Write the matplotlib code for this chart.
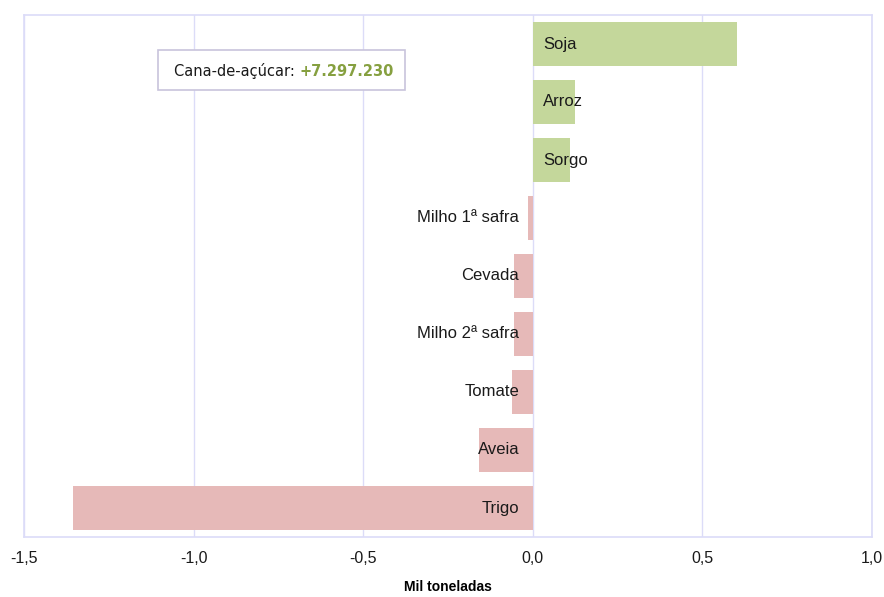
import matplotlib
matplotlib.use("Agg")
import matplotlib.pyplot as plt
from matplotlib.patches import Rectangle

# data (Mil toneladas), top to bottom
crops = ["Soja", "Arroz", "Sorgo", "Milho 1ª safra", "Cevada",
         "Milho 2ª safra", "Tomate", "Aveia", "Trigo"]
values = [0.601, 0.124, 0.109, -0.015, -0.056, -0.056, -0.062, -0.159, -1.356]
ticks = [-1.5, -1.0, -0.5, 0.0, 0.5, 1.0]
tick_labels = ["-1,5", "-1,0", "-0,5", "0,0", "0,5", "1,0"]
note_label = "Cana-de-açúcar:"
note_value = "+7.297.230"

green = "#c4d79b"
pink = "#e6b9b8"
grid_col = "#dcdcf8"

plt.rcParams["font.family"] = ["Liberation Sans", "DejaVu Sans"]

fig = plt.figure(figsize=(8.84, 5.97), dpi=100)
ax = fig.add_axes([24 / 884, 1 - 537 / 597, 848 / 884, 522 / 597])

ypos = list(range(len(crops)))[::-1]
colors = [green if v > 0 else pink for v in values]
ax.barh(ypos, values, height=0.76, color=colors, zorder=2)

for y, v, name in zip(ypos, values, crops):
    if v > 0:
        ax.text(0.03, y, name, ha="left", va="center", fontsize=12, color="#1a1a1a", zorder=3)
    else:
        ax.text(-0.04, y, name, ha="right", va="center", fontsize=12, color="#1a1a1a", zorder=3)

ax.set_xlim(-1.5, 1.0)
ax.set_ylim(-0.5, len(crops) - 0.5)
ax.set_yticks([])
ax.set_xticks(ticks)
ax.set_xticklabels(tick_labels, fontsize=11.5)
ax.tick_params(axis="x", length=0, pad=10, colors="#1a1a1a")
ax.grid(axis="x", color=grid_col, lw=1, zorder=0)
for s in ax.spines.values():
    s.set_color(grid_col)
    s.set_linewidth(1.2)
ax.set_xlabel("Mil toneladas", fontsize=10, fontweight="bold", labelpad=10)

# note box
fig.patches.append(Rectangle((158 / 884, 1 - 90 / 597), 247 / 884, 40 / 597,
                             transform=fig.transFigure, facecolor="white",
                             edgecolor="#c8c4dc", lw=1.2, zorder=5))
t1 = fig.text(174 / 884, 1 - 71 / 597, note_label + " ", fontsize=10.5,
              family="DejaVu Sans", va="center", ha="left", color="#1a1a1a", zorder=6)
fig.canvas.draw()
bb = t1.get_window_extent().transformed(fig.transFigure.inverted())
fig.text(bb.x1, 1 - 71 / 597, note_value, va="center", ha="left",
         fontsize=10.5, fontweight="bold", family="DejaVu Sans",
         color="#86a040", zorder=6)

fig.savefig("out.png", dpi=100)
